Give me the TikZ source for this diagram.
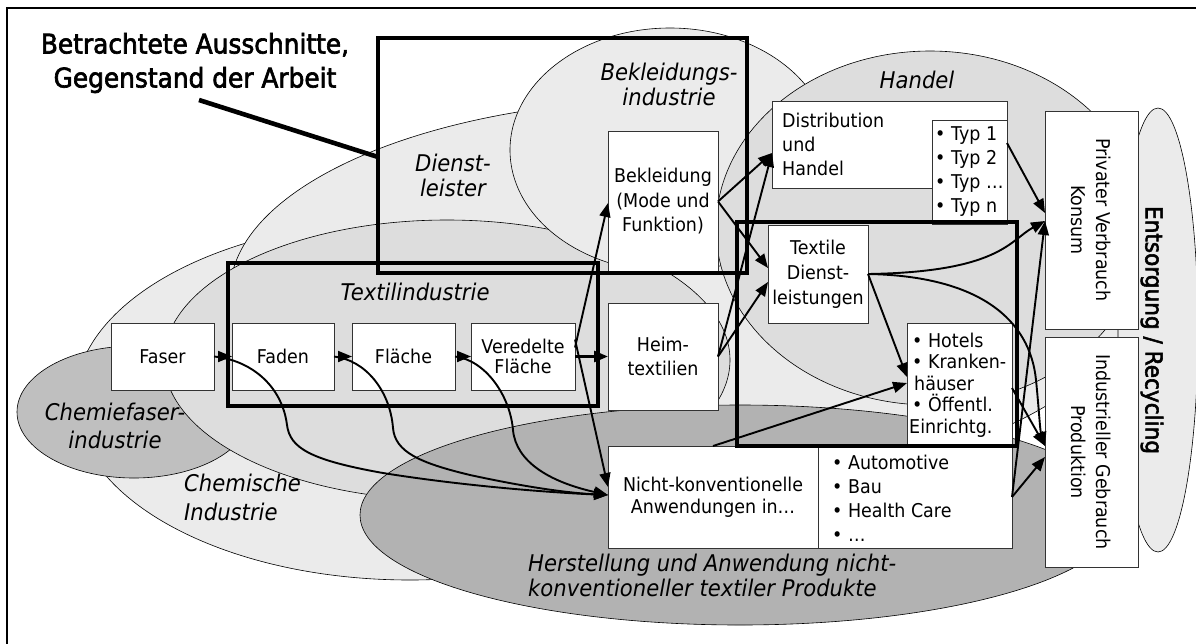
\documentclass[tikz,border=0pt]{standalone}
\usepackage{fontspec}
\setmainfont{DejaVu Sans}[FakeStretch=0.92]
\newfontfamily\headfont{DejaVu Sans}[FakeStretch=0.92, FakeBold=2.4]
\usetikzlibrary{arrows.meta}

\definecolor{lightfill}{gray}{0.92}
\definecolor{midfill}{gray}{0.865}
\definecolor{darkfill}{gray}{0.75}
\definecolor{deepfill}{gray}{0.70}

\newcommand{\boxfont}{\fontsize{19}{23}\selectfont}
\newcommand{\zonefont}{\fontsize{23}{25}\selectfont\itshape}

\tikzset{
  zone/.style={draw=black, line width=0.6pt},
  box/.style={draw=black!80, line width=0.9pt, fill=white, inner sep=0pt,
              outer sep=0pt, align=center, font=\boxfont},
  boxtext/.style={inner sep=0pt, font=\boxfont},
  focus/.style={draw=black, line width=4.6pt, inner sep=0pt, outer sep=0pt},
  flow/.style={-{Triangle[length=14pt,width=11pt]}, line width=1.9pt},
  zonelabel/.style={font=\zonefont, inner sep=0pt},
}

\begin{document}
\begin{tikzpicture}[x=1pt, y=-1pt]
\useasboundingbox (0,0) rectangle (1196,643);
\clip (0,0) rectangle (1196,643);
\fill[white] (0,0) rectangle (1196,643);

% industry zones
\draw[zone, fill=lightfill] (410,400) ellipse [x radius=335pt, y radius=180pt];  % Chemische Industrie
\draw[zone, fill=lightfill] (680,293) ellipse [x radius=450pt, y radius=194pt];  % Dienstleister
\draw[zone, fill=darkfill]  (134,412) ellipse [x radius=117pt, y radius=66pt];   % Chemiefaserindustrie
\draw[zone, fill=midfill]   (447,360) ellipse [x radius=283pt, y radius=140pt];  % Textilindustrie
\draw[zone, fill=lightfill] (670,150) ellipse [x radius=160pt, y radius=122pt];  % Bekleidungsindustrie
\draw[zone, fill=midfill]   (930,228) ellipse [x radius=214pt, y radius=177pt];  % Handel
\draw[zone, fill=deepfill]  (740,515) ellipse [x radius=380pt, y radius=110pt];  % nicht-konventionelle Produkte
\draw[zone, fill=lightfill] (1158,330) ellipse [x radius=40pt, y radius=222pt];  % Entsorgung

% outer frame
\draw[line width=2.6pt] (7,8) rectangle (1215,660);

% zone labels
\node[zonelabel, align=center] (lbldienst) at (453,175.5) {Dienst-\\leister};
\node[zonelabel, align=center] (lblbekl) at (669,84.5) {Bekleidungs-\\industrie};
\node[zonelabel] (lblhandel) at (917,80) {Handel};
\node[zonelabel] (lbltextil) at (415,292) {Textilindustrie};
\node[zonelabel, align=center, font=\fontsize{23}{28}\selectfont\itshape] (lblcfaser) at (115,426) {Chemiefaser-\\industrie};
\node[zonelabel, align=left, anchor=west, font=\fontsize{23}{29}\selectfont\itshape] (lblchem) at (184,497.5) {Chemische\\Industrie};
\node[zonelabel, align=left, anchor=west] (lblherst) at (528,575.5) {Herstellung und Anwendung nicht-\\konventioneller textiler Produkte};

% title
\node[font=\headfont\fontsize{27}{34}\selectfont, align=center, inner sep=0pt] (title) at (195,63) {Betrachtete Ausschnitte,\\Gegenstand der Arbeit};

% process boxes
\node[box, minimum width=103pt, minimum height=67pt] (faser) at (162.5,356.5) {Faser};
\node[box, minimum width=102pt, minimum height=67pt] (faden) at (283,356.5) {Faden};
\node[box, minimum width=103pt, minimum height=67pt] (flaeche) at (403.5,356.5) {Fläche};
\node[box, minimum width=104pt, minimum height=67pt, font=\fontsize{19}{20}\selectfont] (vered) at (523,356.5) {Veredelte\\Fläche};
\node[box, minimum width=110pt, minimum height=141pt, font=\fontsize{19}{24.5}\selectfont] (bekl) at (663,201.5) {Bekleidung\\(Mode und\\Funktion)};
\node[box, minimum width=110pt, minimum height=107pt, font=\fontsize{19}{24}\selectfont] (heim) at (663,356.5) {Heim-\\textilien};
\node[box, minimum width=210pt, minimum height=102pt, font=\fontsize{19}{22}\selectfont] (nk) at (713,497) {Nicht-konventionelle\\Anwendungen in…};
\node[box, minimum width=194pt, minimum height=102pt] (auto) at (915,497) {};
\node[boxtext, anchor=west, align=left, font=\fontsize{19}{24}\selectfont] (autotext) at (832,498.5) {• Automotive\\• Bau\\• Health Care\\• …};
\node[box, minimum width=235pt, minimum height=87pt] (distr) at (889.5,144.5) {};
\node[boxtext, anchor=west, align=left, font=\fontsize{19}{24}\selectfont] (distrtext) at (782,144.5) {Distribution\\und\\Handel};
\node[box, minimum width=75pt, minimum height=104pt] (typ) at (969.5,172) {};
\node[boxtext, anchor=west, align=left, font=\fontsize{19}{24}\selectfont] (typtext) at (935,171.5) {• Typ 1\\• Typ 2\\• Typ …\\• Typ n};
\node[box, minimum width=100pt, minimum height=98pt, font=\fontsize{19}{25}\selectfont] (td) at (818,274) {Textile\\Dienst-\\leistungen};
\node[box, minimum width=105pt, minimum height=123pt] (hotels) at (959.5,384.5) {};
\node[boxtext, anchor=west, align=left, font=\fontsize{19}{21.5}\selectfont] (hoteltext) at (909,385) {\hspace{3pt}• Hotels\\\hspace{3pt}• Kranken-\\\hspace{5pt}häuser\\\hspace{3pt}• Öffentl.\\Einrichtg.};
\node[box, minimum width=93pt, minimum height=218pt] (priv) at (1091.5,220) {};
\node[boxtext, rotate=-90, align=center, font=\fontsize{19}{25}\selectfont] (privtext) at (priv) {Privater Verbrauch\\Konsum};
\node[box, minimum width=93pt, minimum height=230pt] (indu) at (1091.5,452) {};
\node[boxtext, rotate=-90, align=center, font=\fontsize{19}{25}\selectfont] (indutext) at (indu) {Industrieller Gebrauch\\Produktion};
\node[inner sep=0pt, rotate=-90, font=\headfont\fontsize{23.5}{28}\selectfont] (entsorg) at (1152,330) {Entsorgung / Recycling};

% regions under study
\node[focus, minimum width=369pt, minimum height=235pt] (focusA) at (562.5,155.5) {};
\node[focus, minimum width=370pt, minimum height=143pt] (focusB) at (413,334.5) {};
\node[focus, minimum width=280pt, minimum height=224pt] (focusC) at (877,334) {};
\coordinate (ptrtail) at (199,100);
\draw[line width=4.6pt] (ptrtail) -- ([yshift=-1.5pt]focusA.west);

% value chain
\draw[flow] (faser.east) -- (faden.west);
\draw[flow] (faden.east) -- (flaeche.west);
\draw[flow] (flaeche.east) -- (vered.west);
\draw[flow, line width=2.8pt] (vered.east) -- (heim.west);
\draw[flow] ([yshift=9pt]vered.east) -- ([yshift=-1.5pt]bekl.west);
\draw[flow] ([yshift=17pt]vered.east) -- ([yshift=10pt]nk.west);

\draw[flow] (faser.east) .. controls (250,360) and (282,385) .. (287,425)
  .. controls (290,448) and (310,460) .. (383,473)
  .. controls (470,487) and (560,493) .. ([yshift=2pt]nk.west);
\draw[flow] (faden.east) .. controls (365,360) and (390,390) .. (393,428)
  .. controls (395,452) and (420,463) .. (470,475)
  .. controls (530,488) and (570,493) .. ([yshift=2pt]nk.west);
\draw[flow] (flaeche.east) .. controls (485,360) and (510,395) .. (513,430)
  .. controls (516,462) and (550,482) .. ([yshift=2pt]nk.west);

\draw[flow] (bekl.east) -- ([yshift=-8.5pt]distr.west);
\draw[flow] (bekl.east) -- ([yshift=6pt]td.west);
\draw[flow] (heim.east) -- ([yshift=-8.5pt]distr.west);
\draw[flow] (heim.east) -- ([yshift=-8pt]td.west);

\draw[flow] ([yshift=29pt]typ.east) -- ([yshift=7pt]priv.west);
\draw[flow] (td.east) .. controls (1000,272) and (1010,240) .. ([yshift=-1pt]priv.west);
\draw[flow] (td.east) .. controls (980,276) and (1030,320) .. (1036,380)
  .. controls (1039,410) and (1040,430) .. ([yshift=6pt]indu.west);
\draw[flow] (td.east) -- ([yshift=7.5pt]hotels.west);
\draw[flow] (nk.north) -- ([yshift=1.5pt]hotels.west);
\draw[flow] ([yshift=-3.5pt]hotels.east) -- ([yshift=6pt]indu.west);
\draw[flow] (auto.east) -- ([yshift=-5pt]indu.west);
\draw[flow] (auto.east) -- ([yshift=-1pt]priv.west);
\end{tikzpicture}
\end{document}
